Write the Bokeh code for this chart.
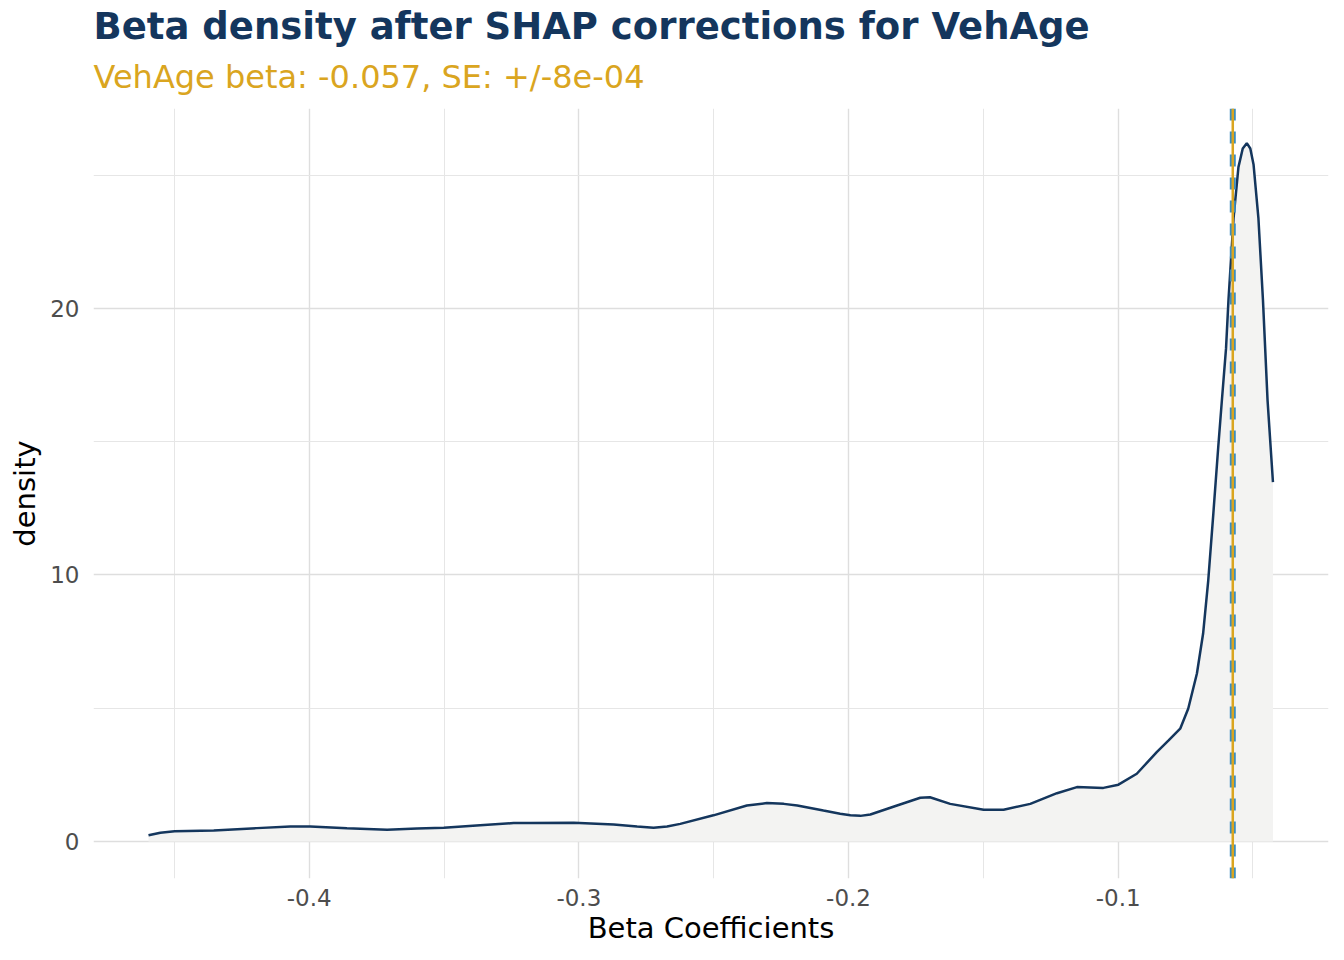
from bokeh.plotting import figure
from bokeh.models import Span, Title, FixedTicker, Range1d
from bokeh.embed import file_html
from bokeh.resources import INLINE

# Data
beta_x = [-0.4596, -0.4552, -0.4499, -0.4354, -0.4194, -0.4070, -0.3996, -0.3860,
          -0.3711, -0.3600, -0.3501, -0.3366, -0.3242, -0.3180, -0.3019, -0.2871,
          -0.2784, -0.2723, -0.2673, -0.2624, -0.2501, -0.2377, -0.2303, -0.2240,
          -0.2190, -0.2093, -0.2031, -0.1993, -0.1956, -0.1919, -0.1820, -0.1734,
          -0.1698, -0.1623, -0.1499, -0.1425, -0.1326, -0.1227, -0.1153, -0.1055,
          -0.0999, -0.0931, -0.0857, -0.0813, -0.0770, -0.0740, -0.0708, -0.0685,
          -0.0666, -0.0647, -0.0629, -0.0615, -0.0600, -0.0591, -0.0572, -0.0554,
          -0.0538, -0.0523, -0.0510, -0.0498, -0.0480, -0.0463, -0.0446, -0.0426]
density = [0.23, 0.33, 0.38, 0.41, 0.50, 0.56, 0.56, 0.50,
           0.44, 0.49, 0.51, 0.61, 0.69, 0.69, 0.70, 0.64,
           0.56, 0.51, 0.56, 0.66, 0.98, 1.35, 1.44, 1.41,
           1.35, 1.16, 1.04, 0.98, 0.96, 1.01, 1.35, 1.64,
           1.66, 1.41, 1.19, 1.19, 1.41, 1.81, 2.04, 2.01,
           2.13, 2.54, 3.35, 3.79, 4.23, 4.99, 6.30, 7.80,
           9.79, 12.31, 14.78, 16.6, 18.5, 20.3, 23.4, 25.3,
           26.0, 26.2, 26.0, 25.4, 23.4, 20.3, 16.55, 13.48]
beta_value = -0.0575
mean_value = -0.0575
x_ticks = [-0.4, -0.3, -0.2, -0.1]
x_minor = [-0.45, -0.35, -0.25, -0.15, -0.05]
y_ticks = [0, 10, 20]
y_minor = [5, 15, 25]

title_text = "Beta density after SHAP corrections for VehAge"
subtitle_text = "VehAge beta: -0.057, SE: +/-8e-04"

NAVY = "#14365D"
GOLD = "#DAA520"
BLUE = "#3C8DBF"
FONT = "DejaVu Sans"

p = figure(width=1336, height=952, output_backend="svg", toolbar_location=None,
           title_location=None,
           x_range=Range1d(-0.48, -0.022), y_range=Range1d(-1.39, 27.5),
           min_border_left=93, min_border_right=8, min_border_top=108,
           min_border_bottom=74)
p.outline_line_color = None
p.background_fill_color = "white"
p.border_fill_color = "white"

# area + line
p.varea(x=beta_x, y1=[0] * len(beta_x), y2=density, fill_color="#F3F3F2")
p.line(beta_x, density, line_color=NAVY, line_width=2.5)

p.add_layout(Span(location=mean_value, dimension="height", line_color=BLUE,
                  line_width=6, line_dash="12 11"))
p.add_layout(Span(location=beta_value, dimension="height", line_color=GOLD,
                  line_width=2.5))

# axes
p.xaxis.ticker = FixedTicker(ticks=x_ticks, minor_ticks=x_minor)
p.yaxis.ticker = FixedTicker(ticks=y_ticks, minor_ticks=y_minor)
p.xaxis.major_label_overrides = {t: f"{t:.1f}" for t in x_ticks}
for ax in (p.xaxis, p.yaxis):
    ax.axis_line_color = None
    ax.major_tick_line_color = None
    ax.minor_tick_line_color = None
    ax.major_tick_out = 0
    ax.major_tick_in = 0
    ax.minor_tick_out = 0
    ax.major_label_text_font = FONT
    ax.major_label_text_font_size = "23px"
    ax.major_label_text_color = "#4D4D4D"
    ax.axis_label_text_font = FONT
    ax.axis_label_text_font_size = "29px"
    ax.axis_label_text_font_style = "normal"
    ax.axis_label_text_color = "black"
p.xaxis.axis_label = "Beta Coefficients"
p.yaxis.axis_label = "density"
p.xaxis.major_label_standoff = 10
p.yaxis.major_label_standoff = 14
p.xaxis.axis_label_standoff = 2
p.yaxis.axis_label_standoff = 5

for g in (p.xgrid, p.ygrid):
    g.grid_line_color = "#DEDEDE"
    g.grid_line_width = 1.4
    g.minor_grid_line_color = "#E6E6E6"
    g.minor_grid_line_width = 1.0

p.add_layout(Title(text=subtitle_text, text_font=FONT, text_font_size="32px",
                   text_font_style="normal", text_color=GOLD, align="left",
                   standoff=25), "above")
p.add_layout(Title(text=title_text, text_font=FONT, text_font_size="37px",
                   text_font_style="bold", text_color=NAVY, align="left",
                   standoff=-8), "above")

open("out.html", "w").write(file_html(p, INLINE))
